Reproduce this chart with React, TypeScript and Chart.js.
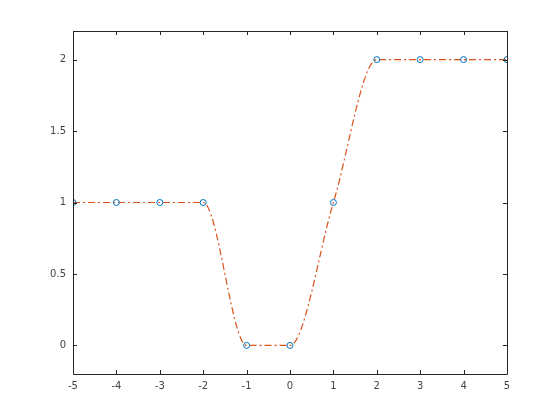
import React, { useEffect, useRef } from "react";
import { Chart, registerables } from "chart.js";

Chart.register(...registerables);

const xValues = [-5, -4, -3, -2, -1, 0, 1, 2, 3, 4, 5];
const yValues = [1, 1, 1, 1, 0, 0, 1, 2, 2, 2, 2];
const xTicks = [-5, -4, -3, -2, -1, 0, 1, 2, 3, 4, 5];
const yTicks = [0, 0.5, 1, 1.5, 2];

const AXIS_COLOR = "#262626";
const TEXT_COLOR = "#444444";

const framePlugin = {
  id: "frame",
  afterDraw(chart: any) {
    const { ctx, chartArea } = chart;
    const { left, right, top, bottom } = chartArea;
    const xs = chart.scales.x;
    const ys = chart.scales.y;
    ctx.save();
    ctx.strokeStyle = AXIS_COLOR;
    ctx.lineWidth = 1;
    ctx.beginPath();
    ctx.rect(Math.round(left) + 0.5, Math.round(top) + 0.5, Math.round(right - left), Math.round(bottom - top));
    ctx.stroke();
    const len = 4;
    ctx.beginPath();
    xTicks.forEach((v) => {
      const px = Math.round(xs.getPixelForValue(v)) + 0.5;
      ctx.moveTo(px, bottom);
      ctx.lineTo(px, bottom - len);
      ctx.moveTo(px, top);
      ctx.lineTo(px, top + len);
    });
    yTicks.forEach((v) => {
      const py = Math.round(ys.getPixelForValue(v)) + 0.5;
      ctx.moveTo(left, py);
      ctx.lineTo(left + len, py);
      ctx.moveTo(right, py);
      ctx.lineTo(right - len, py);
    });
    ctx.stroke();
    ctx.restore();
  },
};

export default function App() {
  const ref = useRef<HTMLCanvasElement>(null);
  useEffect(() => {
    if (!ref.current) return;
    const pts = xValues.map((x, i) => ({ x, y: yValues[i] }));
    const chart = new Chart(ref.current, {
      type: "line",
      data: {
        datasets: [
          {
            label: "data",
            data: pts,
            showLine: false,
            pointStyle: "circle",
            pointRadius: 3,
            pointBorderWidth: 1,
            pointBorderColor: "#0072BD",
            pointBackgroundColor: "rgba(0,0,0,0)",
            borderColor: "#0072BD",
            order: 0,
          },
          {
            label: "interp",
            data: pts,
            cubicInterpolationMode: "monotone",
            borderColor: "#D95319",
            borderWidth: 1.2,
            borderDash: [7, 3, 2, 3],
            pointRadius: 0,
            fill: false,
            order: 1,
          },
        ],
      },
      options: {
        animation: false,
        responsive: false,
        maintainAspectRatio: false,
        events: [],
        layout: { padding: { left: 0, right: 53, top: 31, bottom: 0 } },
        plugins: { legend: { display: false }, tooltip: { enabled: false } },
        scales: {
          x: {
            type: "linear",
            min: -5,
            max: 5,
            grid: { display: false, drawTicks: false },
            border: { display: false },
            afterBuildTicks: (s: any) => {
              s.ticks = xTicks.map((v) => ({ value: v }));
            },
            afterFit: (s: any) => {
              s.height = 46;
            },
            ticks: {
              padding: 6,
              color: TEXT_COLOR,
              font: { family: "DejaVu Sans", size: 10 },
              maxRotation: 0,
              autoSkip: false,
              callback: (v: any) => String(v),
            },
          },
          y: {
            type: "linear",
            min: -0.2,
            max: 2.2,
            grid: { display: false, drawTicks: false },
            border: { display: false },
            afterBuildTicks: (s: any) => {
              s.ticks = yTicks.map((v) => ({ value: v }));
            },
            afterFit: (s: any) => {
              s.width = 73;
            },
            ticks: {
              padding: 7,
              color: TEXT_COLOR,
              font: { family: "DejaVu Sans", size: 10 },
              autoSkip: false,
              callback: (v: any) => String(v),
            },
          },
        },
      },
      plugins: [framePlugin],
    });
    return () => chart.destroy();
  }, []);
  return (
    <div style={{ position: "fixed", left: 0, top: 0, width: 560, height: 420, background: "#fff" }}>
      <canvas ref={ref} width={560} height={420} style={{ width: 560, height: 420 }} />
    </div>
  );
}
